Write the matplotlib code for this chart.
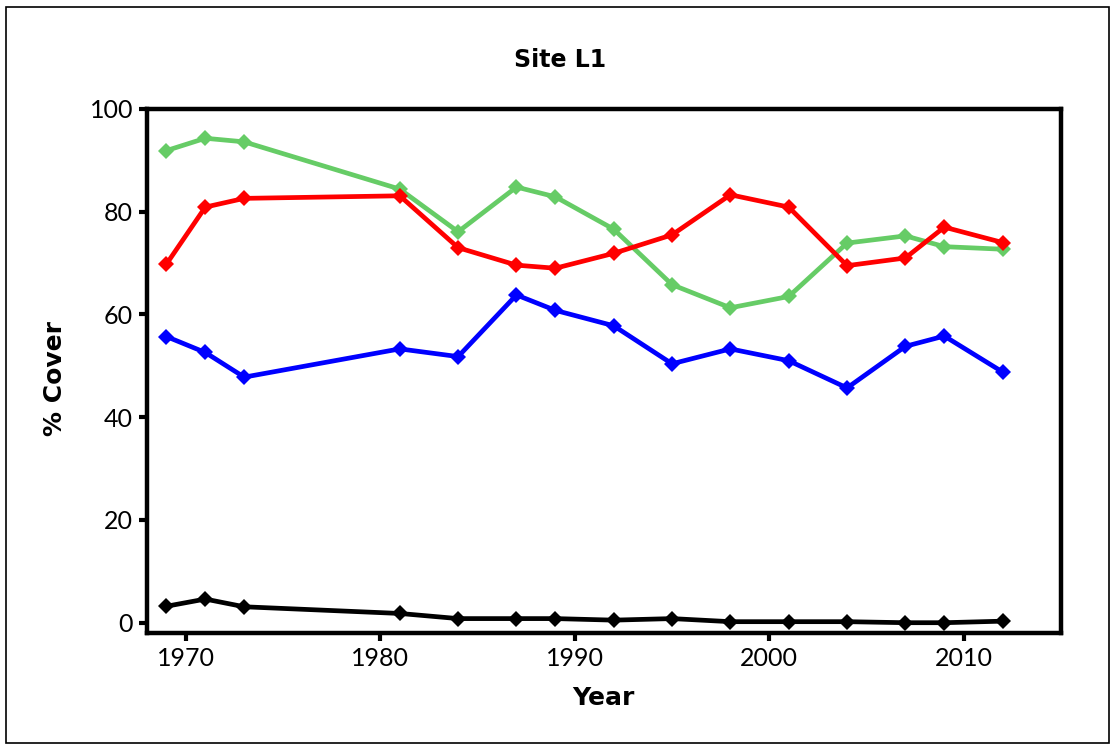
import matplotlib
matplotlib.use("Agg")
import matplotlib.pyplot as plt
from matplotlib.patches import Rectangle

years = [1969, 1971, 1973, 1981, 1984, 1987, 1989, 1992, 1995, 1998, 2001, 2004, 2007, 2009, 2012]
green = [91.9, 94.3, 93.6, 84.4, 76.1, 84.8, 82.9, 76.6, 65.8, 61.3, 63.5, 73.9, 75.3, 73.2, 72.7]
red = [69.8, 80.9, 82.6, 83.1, 73.0, 69.6, 69.0, 71.9, 75.5, 83.3, 80.9, 69.5, 71.0, 77.0, 74.0]
blue = [55.7, 52.6, 47.8, 53.3, 51.8, 63.8, 60.8, 57.8, 50.4, 53.3, 51.0, 45.7, 53.8, 55.8, 48.8]
black = [3.2, 4.6, 3.1, 1.8, 0.8, 0.8, 0.8, 0.5, 0.8, 0.2, 0.2, 0.2, 0.0, 0.0, 0.3]

xticks = [1970, 1980, 1990, 2000, 2010]
yticks = [0, 20, 40, 60, 80, 100]

plt.rcParams['font.family'] = ['Lato', 'DejaVu Sans']

fig = plt.figure(figsize=(11.16, 7.49), dpi=100)
ax = fig.add_axes([0.1317, 0.1549, 0.819, 0.6996])

series = [(green, '#66CC66'), (red, '#FF0000'), (blue, '#0000FF'), (black, '#000000')]
for vals, col in series:
    ax.plot(years, vals, color=col, lw=3.4, marker='D', markersize=8.5,
            markeredgewidth=0, solid_joinstyle='round', clip_on=False)

ax.set_xlim(1968, 2015)
ax.set_ylim(-2, 100)
ax.set_xticks(xticks)
ax.set_yticks(yticks)
ax.tick_params(axis='both', direction='out', length=6, width=3, labelsize=18, pad=4)
for s in ax.spines.values():
    s.set_linewidth(3.2)

fig.text(0.502, 0.92, 'Site L1', ha='center', va='center', fontsize=17, fontweight='bold',
         family=['DejaVu Sans'])
fig.text(0.541, 0.068, 'Year', ha='center', va='center', fontsize=18, fontweight='bold',
         family=['DejaVu Sans'])
fig.text(0.049, 0.495, '% Cover', ha='center', va='center', fontsize=18, fontweight='bold',
         rotation=90, family=['DejaVu Sans'])

fig.patches.append(Rectangle((6/1116, 6/749), 1 - 13/1116, 1 - 13/749, transform=fig.transFigure,
                             fill=False, edgecolor='black', lw=1.2))

fig.savefig('out.png', dpi=100)
